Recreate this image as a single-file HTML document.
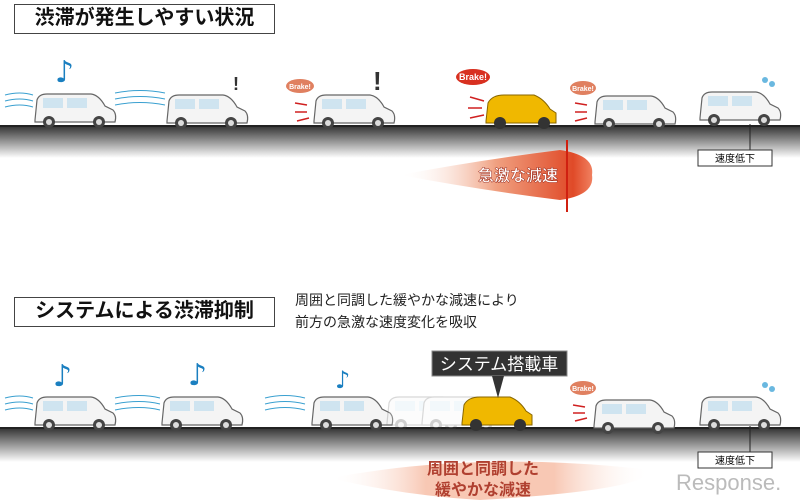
<!DOCTYPE html><html><head><meta charset="utf-8"><style>
body{margin:0;width:800px;height:500px;background:#fff;overflow:hidden;position:relative;font-family:"Liberation Sans","Noto Sans CJK JP",sans-serif}
.t{position:absolute;border:1.5px solid #444;background:#fff;font-weight:bold;font-size:20px;color:#111;text-align:center;box-sizing:border-box}
.abs{position:absolute}
</style></head><body>
<div class="t" style="left:14px;top:4px;width:261px;height:30px;line-height:27px">渋滞が発生しやすい状況</div>
<div class="t" style="left:14px;top:297px;width:261px;height:30px;line-height:27px">システムによる渋滞抑制</div>
<div class="abs" style="left:295px;top:289px;font-size:14px;line-height:22px;color:#222">周囲と同調した緩やかな減速により<br>前方の急激な速度変化を吸収</div>
<svg class="abs" style="left:0;top:0" width="800" height="500">
<defs>
<linearGradient id="rd" x1="0" y1="0" x2="0" y2="1"><stop offset="0" stop-color="#333"/><stop offset="1" stop-color="#fff"/></linearGradient>
<linearGradient id="rg" x1="0" y1="0" x2="1" y2="0"><stop offset="0" stop-color="#fff" stop-opacity="0"/><stop offset="0.5" stop-color="#f0a080"/><stop offset="0.9" stop-color="#e04a28"/><stop offset="1" stop-color="#f08060"/></linearGradient>
<linearGradient id="pg" x1="0" y1="0" x2="1" y2="0"><stop offset="0" stop-color="#fff" stop-opacity="0"/><stop offset="0.3" stop-color="#f8c8b4"/><stop offset="0.7" stop-color="#f8c8b4"/><stop offset="1" stop-color="#fff" stop-opacity="0"/></linearGradient>
<g id="car"><path d="M2,28 L4,8 Q6,2 14,2 L58,2 Q66,3 72,14 L80,18 Q84,22 82,30 L2,30Z" fill="#f4f4f4" stroke="#666" stroke-width="1.2"/><rect x="10" y="6" width="20" height="10" fill="#cfe4f0"/><rect x="34" y="6" width="20" height="10" fill="#cfe4f0"/><circle cx="16" cy="30" r="6" fill="#444"/><circle cx="66" cy="30" r="6" fill="#444"/><circle cx="16" cy="30" r="3" fill="#ddd"/><circle cx="66" cy="30" r="3" fill="#ddd"/></g>
</defs>
<rect x="0" y="126" width="800" height="32" fill="url(#rd)"/><rect x="0" y="125" width="800" height="2" fill="#222"/>
<rect x="0" y="428" width="800" height="34" fill="url(#rd)"/><rect x="0" y="427" width="800" height="2" fill="#222"/>
<path d="M400,175 Q480,160 560,150 Q595,155 592,175 Q595,195 560,200 Q480,190 400,175Z" fill="url(#rg)"/>
<line x1="567" y1="140" x2="567" y2="212" stroke="#d02010" stroke-width="2"/>
<text x="518" y="181" font-size="16" font-weight="bold" fill="#fff" stroke="#a03020" stroke-width="0.5" text-anchor="middle" font-family="Liberation Sans,Noto Sans CJK JP,sans-serif">急激な減速</text>
<path d="M330,478 Q480,450 650,470 Q650,490 480,500 Q400,495 330,478Z" fill="url(#pg)"/>
<text x="483" y="474" font-size="16" font-weight="bold" fill="#b04030" text-anchor="middle" font-family="Liberation Sans,Noto Sans CJK JP,sans-serif">周囲と同調した</text>
<text x="483" y="495" font-size="16" font-weight="bold" fill="#b04030" text-anchor="middle" font-family="Liberation Sans,Noto Sans CJK JP,sans-serif">緩やかな減速</text>
<use href="#car" x="33" y="92"/>
<use href="#car" x="165" y="93"/>
<use href="#car" x="312" y="93"/>
<g transform="translate(484,93)"><path d="M2,28 L4,10 Q8,2 20,2 L50,2 Q60,6 66,16 L72,20 L72,30 L2,30Z" fill="#f0b800" stroke="#886600"/><circle cx="16" cy="30" r="6" fill="#333"/><circle cx="60" cy="30" r="6" fill="#333"/></g>
<use href="#car" x="593" y="94"/>
<use href="#car" x="698" y="90"/>
<use href="#car" x="33" y="395"/>
<use href="#car" x="160" y="395"/>
<use href="#car" x="310" y="395"/>
<g opacity="0.25"><use href="#car" x="385" y="395"/><use href="#car" x="420" y="395"/></g>
<g transform="translate(460,395)"><path d="M2,28 L4,10 Q8,2 20,2 L50,2 Q60,6 66,16 L72,20 L72,30 L2,30Z" fill="#f0b800" stroke="#886600"/><circle cx="16" cy="30" r="6" fill="#333"/><circle cx="60" cy="30" r="6" fill="#333"/></g>
<use href="#car" x="592" y="398"/>
<use href="#car" x="698" y="395"/>
<g stroke="#3aa0d0" fill="none" stroke-width="1"><path d="M5,95 q15,-4 28,0 M5,101 q15,-4 28,0 M5,107 q15,-4 28,0 M115,93 q25,-5 50,0 M115,99 q25,-5 50,0 M115,105 q25,-5 50,0 M5,398 q15,-4 28,0 M5,404 q15,-4 28,0 M5,410 q15,-4 28,0 M115,398 q25,-5 45,0 M115,404 q25,-5 45,0 M115,410 q25,-5 45,0 M265,398 q20,-5 40,0 M265,404 q20,-5 40,0 M265,410 q20,-5 40,0"/></g>
<g fill="#1a7fc0" font-size="30" font-family="DejaVu Sans,sans-serif"><text x="55" y="82">♪</text><text x="188" y="385">♪</text><text x="335" y="388" font-size="24">♪</text><text x="53" y="386">♪</text></g>
<g fill="#333" font-weight="bold" font-family="Liberation Sans,sans-serif"><text x="233" y="90" font-size="18">!</text><text x="373" y="90" font-size="26">!</text></g>
<g fill="#e08060"><ellipse cx="300" cy="86" rx="14" ry="7"/><ellipse cx="583" cy="88" rx="13" ry="7"/><ellipse cx="473" cy="77" rx="17" ry="8" fill="#d83020"/><ellipse cx="583" cy="388" rx="13" ry="7"/></g>
<g fill="#fff" font-size="7" font-weight="bold" text-anchor="middle" font-family="Liberation Sans,sans-serif"><text x="300" y="89">Brake!</text><text x="583" y="91">Brake!</text><text x="473" y="80" font-size="9">Brake!</text><text x="583" y="391">Brake!</text></g>
<g stroke="#d02020" stroke-width="1.5"><path d="M295,103 l12,2 M295,112 l12,0 M297,121 l12,-3 M470,97 l14,4 M468,108 l14,0 M470,118 l14,-3 M575,103 l12,2 M575,112 l12,0 M575,121 l12,-3 M573,405 l12,2 M573,413 l12,0 M575,421 l12,-3"/></g>
<g fill="#6ab8e0"><circle cx="765" cy="80" r="3"/><circle cx="772" cy="84" r="3"/><circle cx="765" cy="385" r="3"/><circle cx="772" cy="389" r="3"/></g>
<path d="M750,124 L750,150 M750,426 L750,452" stroke="#222"/>
<rect x="698" y="150" width="74" height="16" fill="#fff" stroke="#333"/>
<text x="735" y="162" font-size="10" text-anchor="middle" font-family="Liberation Sans,Noto Sans CJK JP,sans-serif">速度低下</text>
<rect x="698" y="452" width="74" height="16" fill="#fff" stroke="#333"/>
<text x="735" y="464" font-size="10" text-anchor="middle" font-family="Liberation Sans,Noto Sans CJK JP,sans-serif">速度低下</text>
<rect x="432" y="351" width="135" height="25" fill="#333" stroke="#888"/>
<path d="M492,376 L498,398 L504,376Z" fill="#333"/>
<text x="499" y="370" font-size="17" fill="#fff" text-anchor="middle" font-family="Liberation Sans,Noto Sans CJK JP,sans-serif">システム搭載車</text>
<text x="676" y="490" font-size="22" fill="#bbb" font-family="Liberation Sans,sans-serif">Response.</text>
</svg>
</body></html>
